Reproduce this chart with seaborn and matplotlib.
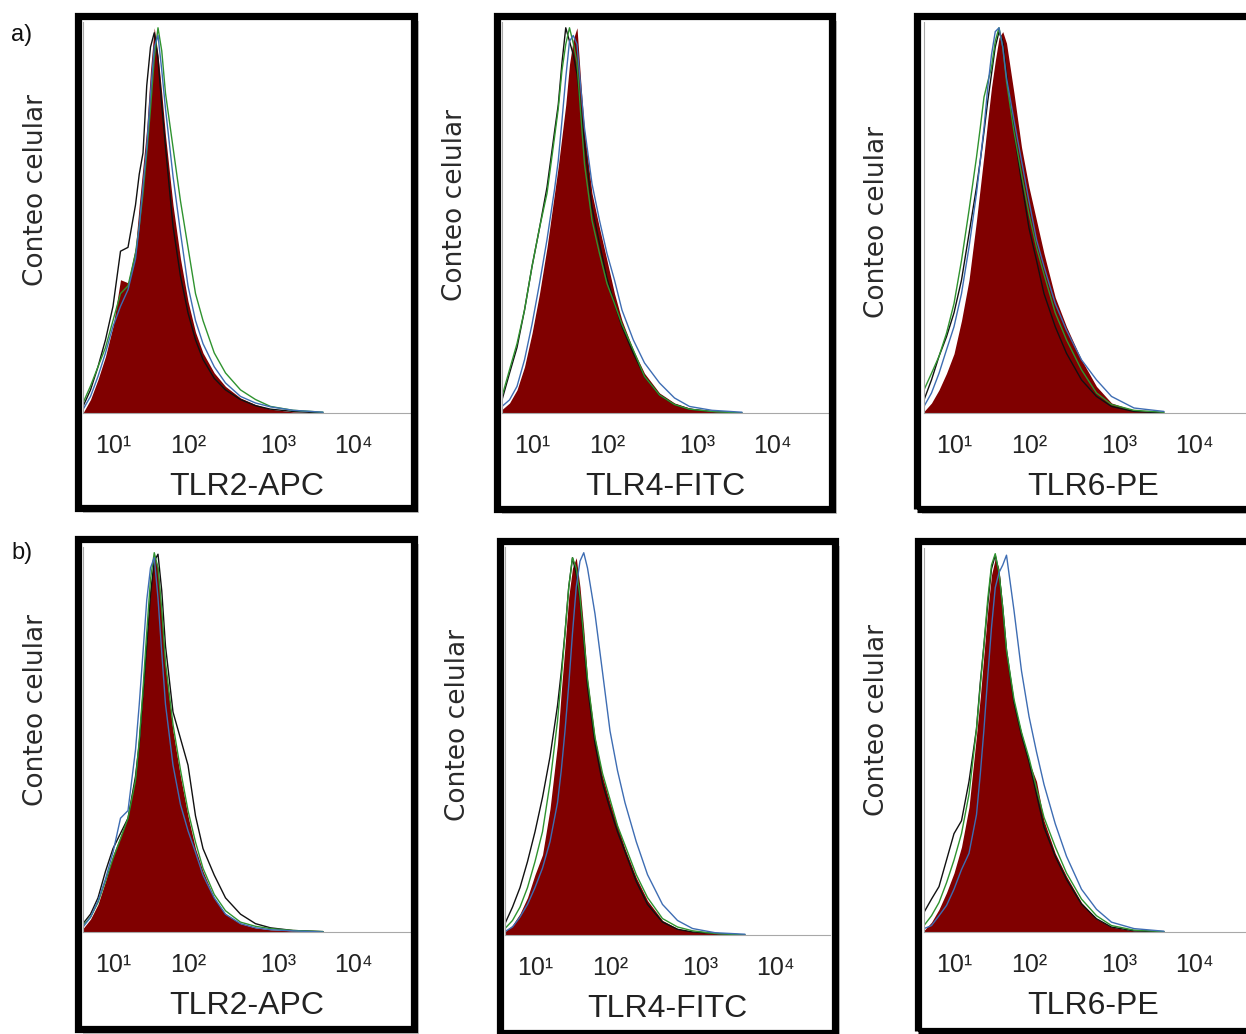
import numpy as np
import matplotlib
matplotlib.use("Agg")
import matplotlib.pyplot as plt
import matplotlib.patches as patches
import seaborn as sns

# fluorescence channel, log10 units
x_log = [0.6, 0.7, 0.8, 0.9, 1.0, 1.1, 1.2, 1.3, 1.35, 1.4, 1.45, 1.5, 1.55, 1.6,
         1.65, 1.7, 1.8, 1.9, 2.0, 2.1, 2.2, 2.35, 2.5, 2.7, 2.9, 3.1, 3.4, 3.8]

# a) cell count (% of peak)
a1_fill = [0, 3.5, 8.7, 14.7, 22.5, 34.6, 33.8, 43, 54, 64, 74, 89, 100, 93, 83, 72, 54, 40, 29, 21, 15.6, 10.4, 6.9, 3.9, 2.2, 1.0, 0.3, 0]
a1_black = [1.7, 6, 12, 19, 27.7, 42, 43, 54, 62, 67.5, 85, 95, 98.7, 92, 80, 69, 48.5, 35.5, 26, 19, 13.9, 9, 6, 3.5, 1.9, 1, 0.4, 0]
a1_green = [2.6, 7, 12, 17, 24, 31, 33, 41.5, 48.5, 57, 67.5, 79, 92, 100, 94, 83, 69, 55, 43, 31, 24, 15.6, 10.4, 6, 3.5, 1.7, 0.7, 0.2]
a1_blue = [0.9, 4.3, 9.5, 15.6, 22.5, 27.7, 32, 40, 48.5, 59, 69, 83, 95, 98, 89, 79, 61.5, 46.8, 33, 24, 18, 12, 7.8, 4.3, 2.6, 1.6, 0.7, 0.2]

a2_fill = [0.9, 2.6, 6, 12, 20.7, 31, 43, 57, 64, 72, 80, 90.5, 97, 100, 86, 73, 57, 48, 39.6, 31, 24, 16.4, 10.3, 5.2, 2.6, 1.3, 0.4, 0]
a2_black = [3.4, 10.3, 17, 26.7, 38, 48, 58.6, 73, 80, 91, 100, 96.5, 93, 88, 79, 70, 53.4, 44, 35, 28.4, 22.4, 15.5, 9.5, 4.7, 2.2, 1, 0.4, 0]
a2_green = [4.3, 11.2, 18, 26.7, 38, 48, 57, 71.5, 79, 89, 95.7, 100, 96, 91, 77.6, 64.6, 50, 41.4, 33.6, 28.4, 23, 16.4, 9.5, 4.7, 2.2, 1, 0.4, 0]
a2_blue = [1.7, 3.4, 6.9, 13.8, 23, 33.6, 45, 58, 65.5, 76, 87, 96.5, 98, 95.7, 84.5, 74, 59.5, 50, 41.4, 34.5, 26.7, 19, 13, 7.8, 3.9, 1.7, 0.7, 0.2]

a3_fill = [0.4, 2.6, 6, 10.3, 15.4, 24, 34.5, 50, 58.5, 67, 76, 84.5, 91.4, 97.4, 99, 96, 83, 69, 58.6, 50, 41.4, 30, 22.4, 13.8, 6.9, 2.6, 0.7, 0]
a3_black = [3.4, 8.6, 14.7, 19.8, 26, 34.5, 46.5, 58.6, 65.5, 73, 81, 88, 95, 99, 96.5, 88, 73, 60, 48, 39.6, 31, 22.4, 15.5, 8.6, 4.3, 1.7, 0.4, 0]
a3_green = [6, 10.3, 14.7, 20.7, 28.4, 39.6, 52.6, 66.4, 74, 82, 86, 89.7, 96.5, 100, 95, 86, 73, 62, 51.7, 43, 36, 26, 19, 11.2, 5.2, 2.2, 0.7, 0.2]
a3_blue = [1.7, 5.2, 10.3, 16.4, 22.4, 31, 43, 57, 65.5, 74, 84.5, 93, 99, 100, 95, 87, 76, 65.5, 55, 45, 38, 28.4, 21.5, 13.8, 8.6, 4.3, 1.3, 0.4]

# b) cell count (% of peak)
b1_fill = [0.9, 3.4, 7.3, 13.4, 20.3, 25.4, 30.6, 41, 50.4, 63.4, 77, 91, 99.6, 96, 84, 70, 53, 41, 30.6, 22, 16, 9, 4.7, 2.2, 1.1, 0.6, 0.3, 0]
b1_black = [2.2, 4.7, 9, 16, 22, 26, 30, 41, 49.6, 62.5, 75.4, 89, 97.8, 99.6, 90, 75.4, 58, 51, 44, 30.6, 22, 15, 9, 4.7, 2.2, 1.1, 0.4, 0.1]
b1_green = [1.7, 3.9, 7.8, 13.4, 19.4, 24.6, 30, 40, 50.4, 64, 79, 93, 100, 96, 85, 71, 54.7, 42.7, 32, 23.7, 16.8, 9.9, 5.6, 2.6, 1.5, 0.9, 0.4, 0.1]
b1_blue = [1.3, 3.9, 8.2, 14, 21, 30, 32, 48, 60, 73.7, 87.5, 96, 98.7, 88, 73.7, 60, 44, 33.6, 26.7, 21, 15, 9, 4.7, 2.2, 1.1, 0.6, 0.3, 0]

b2_fill = [0.9, 2.6, 5.6, 9.8, 15.8, 21, 33, 50, 63.7, 75.6, 88.5, 96, 98.7, 91, 80, 67, 51.7, 41.5, 34.6, 28.6, 22.6, 15, 9, 3.8, 1.7, 0.9, 0.4, 0]
b2_black = [3, 7.3, 12.4, 19.2, 27, 36, 46.6, 60, 68.8, 79, 91, 98.7, 94.4, 87.6, 77, 65, 50, 39.7, 33, 27, 21.8, 14, 8, 3.4, 1.5, 0.8, 0.4, 0]
b2_green = [1.7, 3.8, 7.3, 12.4, 19.2, 27, 39.7, 56, 67, 79, 91, 98.7, 96, 88.5, 78, 67, 51.7, 42.3, 35.5, 28.6, 23.5, 15.8, 9.8, 4.3, 2.1, 1.1, 0.4, 0]
b2_blue = [0.9, 2.1, 4.7, 8, 12.4, 17.5, 24.4, 34.6, 43, 53.4, 65.4, 79, 91, 97.8, 100, 96, 84, 68.8, 53.4, 43, 34.6, 24.4, 15.8, 8, 3.8, 1.7, 0.6, 0.2]

b3_fill = [0.4, 2.6, 6, 10.4, 15.6, 22.5, 33, 52, 62, 73.6, 85, 94.4, 98.7, 96, 85, 73.6, 60.6, 52.8, 45, 39.8, 29.4, 20.8, 14.7, 7.8, 3.5, 1.3, 0.3, 0]
b3_black = [5.2, 8.7, 12, 19, 26, 29.4, 39.8, 53.7, 65.8, 76, 86.6, 96, 99.6, 95, 85.7, 74.5, 60.6, 52, 45, 36.4, 27.7, 20, 13.9, 7.4, 3.5, 1.3, 0.3, 0]
b3_green = [1.7, 4.3, 7.8, 13, 19, 26, 36.4, 53.7, 65, 76, 88, 97, 100, 95, 85.7, 74.5, 61.5, 52.8, 46, 38, 30.3, 22.5, 15.6, 8.7, 4.3, 1.7, 0.5, 0.1]
b3_blue = [0.9, 1.7, 4.3, 7, 11.3, 16.5, 20.8, 31, 41.6, 53.7, 67.5, 80.5, 91, 95, 97, 99.6, 85, 69, 57, 47.6, 39, 28.6, 20, 11.3, 6, 2.6, 0.9, 0.2]

tick_pos = [1.0, 2.0, 3.2, 4.2]
tick_labels = ["10¹", "10²", "10³", "10⁴"]
markers = ["TLR2-APC", "TLR4-FITC", "TLR6-PE"]
ylabel = "Conteo celular"

sns.set_style("white")
narrow = ["Liberation Sans", "DejaVu Sans"]

W, H = 1246, 1034
fig = plt.figure(figsize=(W / 100, H / 100), dpi=100)


def fbox(l, t, r, b):
    return [l / W, 1 - b / H, (r - l) / W, (b - t) / H]


# pixel layout: axes box, frame box, y-label position
panels = [
    ((83, 22, 410, 413), (78, 16, 414, 508), (36, 190), a1_fill, a1_black, a1_green, a1_blue, markers[0]),
    ((502, 22, 828, 413), (497, 16, 832, 509), (455, 205), a2_fill, a2_black, a2_green, a2_blue, markers[1]),
    ((924, 22, 1262, 413), (917, 16, 1266, 509), (877, 222), a3_fill, a3_black, a3_green, a3_blue, markers[2]),
    ((83, 547, 410, 932), (78, 539, 414, 1029), (36, 710), b1_fill, b1_black, b1_green, b1_blue, markers[0]),
    ((505, 547, 830, 935), (500, 541, 835, 1033), (458, 725), b2_fill, b2_black, b2_green, b2_blue, markers[1]),
    ((924, 548, 1262, 932), (918, 541, 1266, 1031), (877, 720), b3_fill, b3_black, b3_green, b3_blue, markers[2]),
]

for abox, frame, ypos, fill, black, green, blue, marker in panels:
    l, t, r, b = frame
    # drop shadow + white card
    fig.add_artist(patches.Rectangle((l / W + 5 / W, 1 - b / H - 5 / H), (r - l) / W, (b - t) / H,
                                     transform=fig.transFigure, fc="#c4c4c4", ec="none", zorder=-3))
    fig.add_artist(patches.Rectangle((l / W, 1 - b / H), (r - l) / W, (b - t) / H,
                                     transform=fig.transFigure, fc="white", ec="none", zorder=-2))
    fig.add_artist(patches.Rectangle((l / W, 1 - b / H), (r - l) / W, (b - t) / H,
                                     transform=fig.transFigure, fill=False, ec="black", lw=5.2, zorder=10))

    ax = fig.add_axes(fbox(*abox))
    ax.set_facecolor("none")
    ax.fill_between(x_log, fill, color="#800000", lw=0)
    sns.lineplot(x=x_log, y=black, color="#111111", lw=1.0, ax=ax)
    sns.lineplot(x=x_log, y=green, color="#2f932f", lw=1.0, ax=ax)
    sns.lineplot(x=x_log, y=blue, color="#3e6db3", lw=1.0, ax=ax)

    ax.set_xlim(0.6, 0.6 + (abox[2] - abox[0]) / 75)
    ax.set_ylim(0, 101.5)
    ax.set_yticks([])
    ax.set_xticks(tick_pos, tick_labels)
    for lab in ax.get_xticklabels():
        lab.set_family(narrow)
    ax.tick_params(axis="x", length=0, pad=15, labelsize=18, labelcolor="#222222")
    ax.set_xlabel(marker, family=narrow, fontsize=23, color="#222222", labelpad=10)
    for s in ["top", "right"]:
        ax.spines[s].set_visible(False)
    for s in ["left", "bottom"]:
        ax.spines[s].set_color("#a8a8a8")
        ax.spines[s].set_linewidth(0.8)

    fig.text(ypos[0] / W, 1 - ypos[1] / H, ylabel, rotation=90, ha="center", va="center",
             fontsize=19, color="#2a2a2a", family="DejaVu Sans")

fig.text(22 / W, 1 - 35 / H, "a)", ha="center", va="center", fontsize=17, color="#111111",
         family=narrow)
fig.text(22 / W, 1 - 553 / H, "b)", ha="center", va="center", fontsize=17, color="#111111",
         family=narrow)

fig.savefig("out.png", dpi=100)
